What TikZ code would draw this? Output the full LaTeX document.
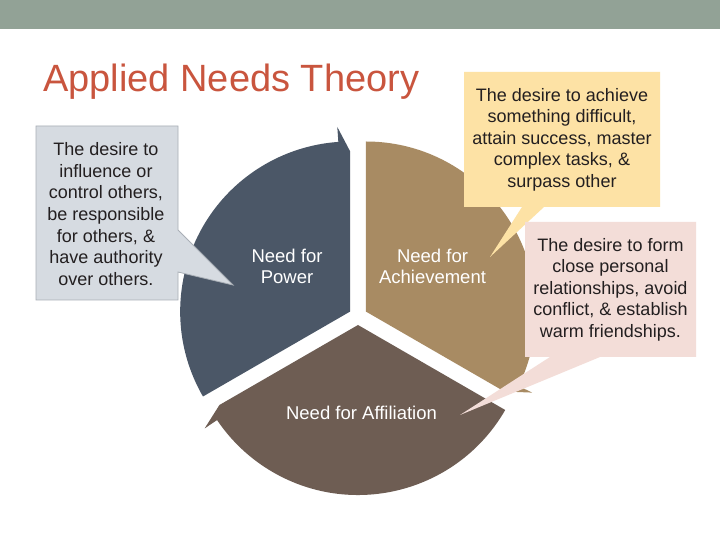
\documentclass[tikz,border=0pt]{standalone}
\usepackage{fontspec}
\setmainfont{Liberation Sans}
\definecolor{barc}{HTML}{92A296}
\definecolor{titlec}{HTML}{C9553E}
\definecolor{powc}{HTML}{4B5767}
\definecolor{achc}{HTML}{A88B63}
\definecolor{affc}{HTML}{6E5D53}
\definecolor{grayc}{HTML}{D6DBE1}
\definecolor{grayb}{HTML}{A9AFB6}
\definecolor{yelc}{HTML}{FDE2A5}
\definecolor{pinkc}{HTML}{F3DDD8}
\definecolor{txtc}{HTML}{231F20}
\tikzset{
  calltext/.style={font=\fontsize{18}{21.6}\selectfont, text=txtc, align=center, inner sep=0pt},
  wlabel/.style={font=\fontsize{18.5}{21}\selectfont, text=white, align=center, inner sep=0pt},
}
\begin{document}
\begin{tikzpicture}[x=1pt,y=1pt]
\useasboundingbox (0,0) rectangle (720,540);
\fill[white] (0,0) rectangle (720,540);
\fill[barc] (0,511.3) rectangle (720,540);
\node[anchor=base west, font=\fontsize{38}{40}\selectfont, text=titlec, inner sep=0pt] (title) at (43,448) {Applied Needs Theory};
% wedges
\begin{scope}[shift={(350.2,228.5)}]
  \fill[powc] (0,0) -- (210:170) arc[start angle=210, end angle=94, radius=170] -- (94:185) -- (90:160) -- cycle;
\end{scope}
\begin{scope}[shift={(365.8,228.5)}]
  \fill[achc] (0,0) -- (90:170) arc[start angle=90, end angle=-26, radius=170] -- (-26:185) -- (-30:160) -- cycle;
\end{scope}
\begin{scope}[shift={(358,215)}]
  \fill[affc] (0,0) -- (330:170) arc[start angle=330, end angle=214, radius=170] -- (214:185) -- (210:160) -- cycle;
\end{scope}
\node[wlabel] (power) at (287,273.3) {Need for\\Power};
\node[wlabel] (ach) at (432.5,273.3) {Need for\\Achievement};
\node[wlabel] (aff) at (361.5,126.7) {Need for Affiliation};
% callouts
\filldraw[fill=grayc, draw=grayb, line width=0.8pt] (36,414) -- (178,414) -- (178,310) -- (233,255) -- (178,268) -- (178,240) -- (36,240) -- cycle;
\node[calltext] (powtxt) at (106,326) {The desire to\\influence or\\control others,\\be responsible\\for others, \&\\have authority\\over others.};
\fill[yelc] (464,468) -- (660,468) -- (660,333) -- (544,333) -- (490,283) -- (522,333) -- (464,333) -- cycle;
\node[calltext] (achtxt) at (562,400.3) {The desire to achieve\\something difficult,\\attain success, master\\complex tasks, \&\\surpass other};
\fill[pinkc] (525,318) -- (696,318) -- (696,183) -- (600,183) -- (460,125) -- (550,183) -- (525,183) -- cycle;
\node[calltext] (afftxt) at (610.5,250.3) {The desire to form\\close personal\\relationships, avoid\\conflict, \& establish\\warm friendships.};
\end{tikzpicture}
\end{document}
